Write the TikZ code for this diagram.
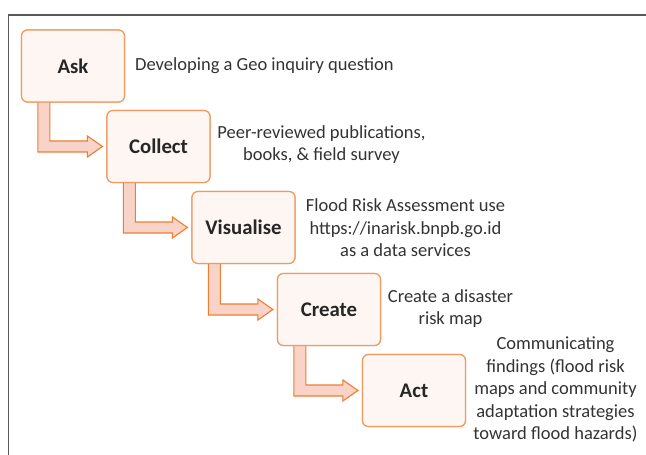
\documentclass[tikz,border=0pt]{standalone}
\usepackage{fontspec}
\setmainfont{Carlito}
\usetikzlibrary{calc}
\definecolor{framegray}{HTML}{595959}
\definecolor{boxline}{HTML}{EF9A5E}
\definecolor{boxfill}{HTML}{FDF6F2}
\definecolor{arrowline}{HTML}{ED7D31}
\definecolor{arrowfill}{HTML}{F9D3C7}
\definecolor{inktext}{HTML}{262626}
\definecolor{labeltext}{HTML}{333333}
\tikzset{
  stage/.style={draw=boxline, fill=boxfill, line width=1.2pt, rounded corners=6pt,
    minimum width=103pt, minimum height=72pt, inner sep=0pt,
    font=\fontsize{20.8}{24}\selectfont\bfseries, text=inktext},
  note/.style={font=\fontsize{18.5}{22.5}\selectfont, text=labeltext, align=center, inner sep=0pt},
  flowarrow/.style={draw=arrowline, fill=arrowfill, line width=1.1pt, line join=miter},
}
% block arrow: down from the lower left of one stage, then right into the next
\newcommand{\stagearrow}[2]{%
  \draw[flowarrow] let \p1=(#1.south west), \p2=(#2.west) in
    (\x1+17pt,\y1+1pt) -- (\x1+29pt,\y1+1pt) -- (\x1+29pt,\y2+5.5pt)
    -- (\x2-19pt,\y2+5.5pt) -- (\x2-19pt,\y2+10.5pt) -- (\x2-4pt,\y2)
    -- (\x2-19pt,\y2-10.5pt) -- (\x2-19pt,\y2-5.5pt) -- (\x1+17pt,\y2-5.5pt) -- cycle;}
\begin{document}
\begin{tikzpicture}[x=1pt,y=-1pt]
\useasboundingbox (0,0) rectangle (646,455);
% frame
\draw[framegray, line width=1.5pt] (8.5,455) -- (8.5,15) -- (646,15);
% stage positions (drawn first so the arrows can refer to them)
\node[stage] (ask) at (73,66) {Ask};
\node[stage] (collect) at (158.5,146.5) {Collect};
\node[stage] (visualise) at (243.5,227.5) {Visualise};
\node[stage] (create) at (329,309.5) {Create};
\node[stage] (act) at (414,390.5) {Act};
% connectors
\stagearrow{ask}{collect}
\stagearrow{collect}{visualise}
\stagearrow{visualise}{create}
\stagearrow{create}{act}
% stages again, on top of the arrow shafts
\node[stage] at (ask) {Ask};
\node[stage] at (collect) {Collect};
\node[stage] at (visualise) {Visualise};
\node[stage] at (create) {Create};
\node[stage] at (act) {Act};
% descriptions
\node[note, anchor=west] (askn) at (135,66) {Developing a Geo inquiry question};
\node[note] (collectn) at (321.5,144.5) {Peer-reviewed publications,\\books, \& field survey};
\node[note] (visualisen) at (405.5,228) {Flood Risk Assessment use\\https://inarisk.bnpb.go.id\\as a data services};
\node[note] (createn) at (450.5,308.5) {Create a disaster\\risk map};
\node[note] (actn) at (555.5,389.5) {Communicating\\findings (flood risk\\maps and community\\adaptation strategies\\toward flood hazards)};
\end{tikzpicture}
\end{document}
